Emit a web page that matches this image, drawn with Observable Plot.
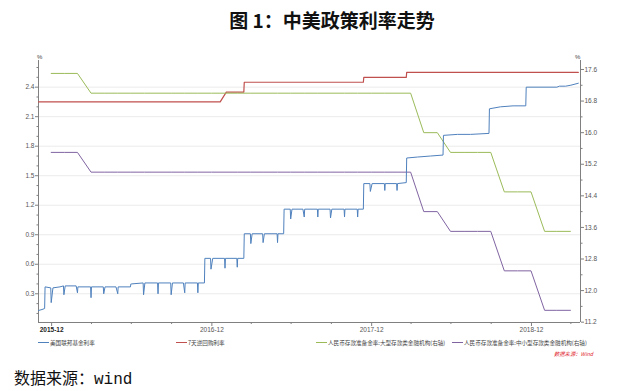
<!DOCTYPE html>
<html><head><meta charset="utf-8">
<script src="https://cdn.jsdelivr.net/npm/d3@7"></script>
<script src="https://cdn.jsdelivr.net/npm/@observablehq/plot@0.6"></script>
<style>
body{margin:0;background:#fff;}
#wrap{position:relative;width:620px;height:391px;overflow:hidden;font-family:"Noto Sans CJK SC",sans-serif;}
#title{position:absolute;left:0;width:664px;top:7px;text-align:center;font-size:19px;font-weight:bold;color:#111;line-height:26px;}
#chart{position:absolute;left:0;top:0;}
.pct{position:absolute;font-size:6px;color:#444;font-family:"Liberation Sans",sans-serif;}
.lg{position:absolute;top:339px;font-size:5.6px;line-height:9px;color:#444;white-space:nowrap;}
.lg i{display:inline-block;width:11px;height:0;border-top:1.2px solid;vertical-align:middle;margin-right:1px;position:relative;top:-1px;}
#src{position:absolute;left:554px;top:350px;font-size:5.3px;color:#e0202a;font-style:italic;white-space:nowrap;}
#foot{position:absolute;left:14px;top:365px;font-size:16px;color:#111;font-family:"Liberation Mono","Noto Sans CJK SC",monospace;white-space:nowrap;}
</style></head><body>
<div id="wrap">
  <div id="title">图 1：中美政策利率走势</div>
  <div id="chart"></div>
  <span class="pct" style="left:37px;top:54px;">%</span>
  <span class="pct" style="left:575px;top:54px;">%</span>
  <div id="legend"></div>
  <div id="src">数据来源：Wind</div>
  <div id="foot">数据来源：wind</div>
</div>
<script>
// ---- data ----
const seriesNames = ["美国联邦基金利率","7天逆回购利率","人民币存款准备金率:大型存款类金融机构(右轴)","人民币存款准备金率:中小型存款类金融机构(右轴)"];
const seriesColors = ["#4F81BD","#C0504D","#9BBB59","#8064A2"];

const usDates = ["2015-12-02","2015-12-10","2015-12-16","2015-12-17","2015-12-30","2015-12-31","2016-01-04","2016-01-20","2016-01-28","2016-01-29","2016-02-01","2016-02-26","2016-02-29","2016-03-01","2016-03-30","2016-03-31","2016-04-01","2016-04-28","2016-04-29","2016-05-02","2016-05-27","2016-05-31","2016-06-01","2016-06-29","2016-06-30","2016-07-01","2016-07-28","2016-07-29","2016-08-01","2016-08-30","2016-08-31","2016-09-01","2016-09-29","2016-09-30","2016-10-03","2016-10-28","2016-10-31","2016-11-01","2016-11-29","2016-11-30","2016-12-01","2016-12-15","2016-12-16","2016-12-29","2016-12-30","2017-01-03","2017-01-30","2017-01-31","2017-02-01","2017-02-27","2017-02-28","2017-03-01","2017-03-15","2017-03-16","2017-03-30","2017-03-31","2017-04-03","2017-04-27","2017-04-28","2017-05-01","2017-05-30","2017-05-31","2017-06-01","2017-06-14","2017-06-15","2017-06-29","2017-06-30","2017-07-03","2017-07-28","2017-07-31","2017-08-01","2017-08-30","2017-08-31","2017-09-01","2017-09-28","2017-09-29","2017-10-02","2017-10-30","2017-10-31","2017-11-01","2017-11-29","2017-11-30","2017-12-01","2017-12-13","2017-12-14","2017-12-28","2017-12-29","2018-01-02","2018-01-30","2018-01-31","2018-02-01","2018-02-27","2018-02-28","2018-03-01","2018-03-21","2018-03-22","2018-04-16","2018-05-15","2018-06-13","2018-06-14","2018-07-16","2018-08-15","2018-09-26","2018-09-27","2018-10-22","2018-11-20","2018-12-19","2018-12-20","2019-02-28","2019-03-06","2019-03-20","2019-04-01","2019-04-18"];
const usRates = [0.13,0.14,0.15,0.37,0.36,0.21,0.36,0.37,0.38,0.29,0.38,0.38,0.31,0.37,0.37,0.26,0.37,0.37,0.30,0.37,0.37,0.30,0.37,0.37,0.40,0.40,0.41,0.29,0.41,0.41,0.30,0.41,0.41,0.29,0.41,0.41,0.31,0.41,0.41,0.31,0.41,0.41,0.66,0.66,0.55,0.66,0.66,0.56,0.66,0.66,0.57,0.66,0.66,0.91,0.91,0.81,0.91,0.91,0.82,0.91,0.91,0.82,0.91,0.91,1.16,1.16,1.06,1.16,1.16,1.08,1.16,1.16,1.08,1.16,1.16,1.07,1.16,1.16,1.08,1.16,1.16,1.08,1.16,1.16,1.42,1.42,1.34,1.42,1.42,1.35,1.42,1.42,1.35,1.42,1.43,1.68,1.69,1.70,1.71,1.91,1.92,1.92,1.93,2.18,2.20,2.21,2.21,2.40,2.40,2.41,2.41,2.42,2.44];

const repoDates = ["2015-12-02","2017-01-20","2017-02-03","2017-03-15","2017-03-16","2017-12-13","2017-12-14","2018-03-21","2018-03-22","2019-04-18"];
const repoRates = [2.25,2.25,2.35,2.35,2.45,2.45,2.50,2.50,2.55,2.55];

const rrrMonths = ["2015-12-31","2016-01-31","2016-02-29","2016-03-31","2016-04-30","2016-05-31","2016-06-30","2016-07-31","2016-08-31","2016-09-30","2016-10-31","2016-11-30","2016-12-31","2017-01-31","2017-02-28","2017-03-31","2017-04-30","2017-05-31","2017-06-30","2017-07-31","2017-08-31","2017-09-30","2017-10-31","2017-11-30","2017-12-31","2018-01-31","2018-02-28","2018-03-31","2018-04-30","2018-05-31","2018-06-30","2018-07-31","2018-08-31","2018-09-30","2018-10-31","2018-11-30","2018-12-31","2019-01-31","2019-02-28","2019-03-31"];
const rrrLarge = [17.5,17.5,17.5,17.0,17.0,17.0,17.0,17.0,17.0,17.0,17.0,17.0,17.0,17.0,17.0,17.0,17.0,17.0,17.0,17.0,17.0,17.0,17.0,17.0,17.0,17.0,17.0,17.0,16.0,16.0,15.5,15.5,15.5,15.5,14.5,14.5,14.5,13.5,13.5,13.5];
const rrrSmall = [15.5,15.5,15.5,15.0,15.0,15.0,15.0,15.0,15.0,15.0,15.0,15.0,15.0,15.0,15.0,15.0,15.0,15.0,15.0,15.0,15.0,15.0,15.0,15.0,15.0,15.0,15.0,15.0,14.0,14.0,13.5,13.5,13.5,13.5,12.5,12.5,12.5,11.5,11.5,11.5];

const leftTicks = [0.3,0.6,0.9,1.2,1.5,1.8,2.1,2.4];
const leftMinorTicks = [0.1,0.2,0.4,0.5,0.7,0.8,1.0,1.1,1.3,1.4,1.6,1.7,1.9,2.0,2.2,2.3,2.5,2.6];
const rightTicks = [11.2,12.0,12.8,13.6,14.4,15.2,16.0,16.8,17.6];
const rightMinorTicks = [11.6,12.4,13.2,14.0,14.8,15.6,16.4,17.2];
const xTickDates = ["2016-01-01","2017-01-01","2018-01-01","2019-01-01"];
const xTickLabels = ["2015-12","2016-12","2017-12","2018-12"];
const xMinorDates = ["2016-04-01","2016-07-01","2016-10-01","2017-04-01","2017-07-01","2017-10-01","2018-04-01","2018-07-01","2018-10-01","2019-04-01"];

// ---- build ----
const D = s => new Date(s + "T00:00:00Z");
const yDomain = [0.008, 2.671];
// right axis (11.2 .. ~17.8) mapped onto the left-axis scale
const toLeft = r => 0.3 + (-28.4 + (r - 11.2) * 39.48) / 98.38;
const toRight = l => 11.2 + ((l - 0.3) * 98.38 + 28.4) / 39.48;

const us = usDates.map((d, i) => ({date: D(d), value: usRates[i]}));
const repo = repoDates.map((d, i) => ({date: D(d), value: repoRates[i]}));
const large = rrrMonths.map((d, i) => ({date: D(d), value: toLeft(rrrLarge[i])}));
const small = rrrMonths.map((d, i) => ({date: D(d), value: toLeft(rrrSmall[i])}));

const xStart = D("2015-12-02"), xEnd = D("2019-04-23");
const xMajor = xTickDates.map(D);
const labelOf = d => xTickLabels[xMajor.findIndex(t => t.getTime() === d.getTime())];
const axisGray = "#808080";
const txt = "#555";

const chart = Plot.plot({
  width: 620, height: 340,
  marginLeft: 38, marginRight: 40, marginTop: 60, marginBottom: 18,
  style: {fontFamily: "'Liberation Sans', sans-serif", fontSize: "6.5px", background: "transparent", color: txt},
  x: {type: "utc", domain: [xStart, xEnd]},
  y: {domain: yDomain},
  marks: [
    Plot.gridY(leftTicks, {stroke: "#ebebeb", strokeOpacity: 1}),
    Plot.axisY(leftTicks, {anchor: "left", tickSize: 3, tickPadding: 1, stroke: axisGray, fill: txt, fontSize: 6.5, tickFormat: d => d.toFixed(1), label: null}),
    Plot.axisY(leftMinorTicks, {anchor: "left", tickSize: 1.5, stroke: axisGray, tickFormat: () => "", label: null}),
    Plot.axisY(rightTicks.map(toLeft), {anchor: "right", tickSize: 3, tickPadding: 1, stroke: axisGray, fill: txt, fontSize: 6.5, tickFormat: d => toRight(d).toFixed(1), label: null}),
    Plot.axisY(rightMinorTicks.map(toLeft), {anchor: "right", tickSize: 1.5, stroke: axisGray, tickFormat: () => "", label: null}),
    Plot.axisX(xMajor.slice(0, 1), {anchor: "bottom", tickSize: 4, tickPadding: 1, stroke: axisGray, fill: "#222", fontWeight: "bold", fontSize: 6.5, tickFormat: labelOf, label: null}),
    Plot.axisX(xMajor.slice(1), {anchor: "bottom", tickSize: 4, tickPadding: 1, stroke: axisGray, fill: txt, fontSize: 6.5, tickFormat: labelOf, label: null}),
    Plot.axisX(xMinorDates.map(D), {anchor: "bottom", tickSize: 2, stroke: axisGray, tickFormat: () => "", label: null}),
    Plot.ruleX([xStart, xEnd], {stroke: axisGray, strokeWidth: 1}),
    Plot.ruleY([yDomain[0]], {stroke: axisGray, strokeWidth: 1}),
    Plot.line(repo, {x: "date", y: "value", stroke: seriesColors[1], strokeWidth: 1.2}),
    Plot.line(large, {x: "date", y: "value", stroke: seriesColors[2], strokeWidth: 1}),
    Plot.line(small, {x: "date", y: "value", stroke: seriesColors[3], strokeWidth: 1}),
    Plot.line(us, {x: "date", y: "value", stroke: seriesColors[0], strokeWidth: 1})
  ]
});
document.getElementById("chart").appendChild(chart);

const legendX = [38, 176, 316, 452];
const lg = document.getElementById("legend");
seriesNames.forEach((n, i) => {
  const s = document.createElement("span");
  s.className = "lg";
  s.style.left = legendX[i] + "px";
  s.innerHTML = `<i style="border-color:${seriesColors[i]}"></i>`;
  s.appendChild(document.createTextNode(n));
  lg.appendChild(s);
});
</script>
</body></html>
